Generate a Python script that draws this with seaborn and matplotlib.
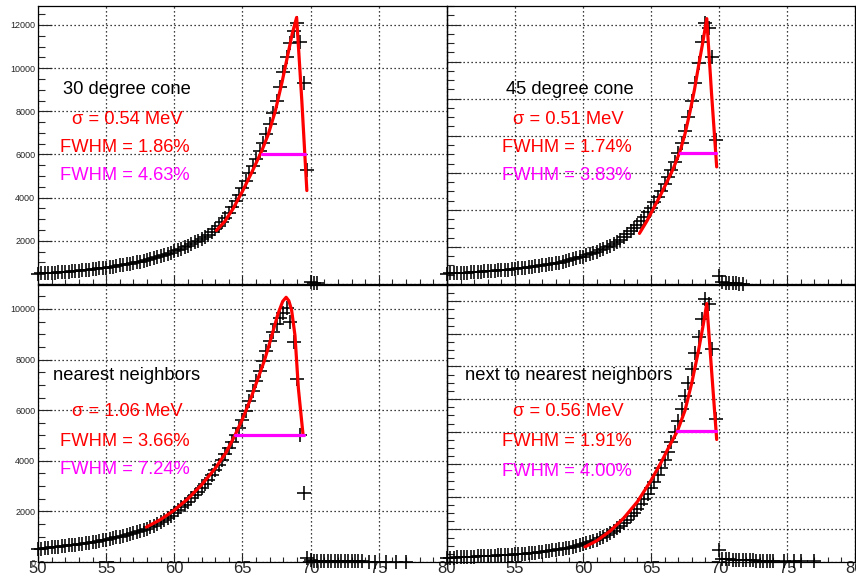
import numpy as np
import pandas as pd
import matplotlib
matplotlib.use("Agg")
import matplotlib.pyplot as plt
import seaborn as sns
from matplotlib.ticker import MultipleLocator, FuncFormatter

# ---------------- data ----------------
# bin centres (MeV) of the histograms, 0.25 MeV bins
energy = np.arange(50.0, 70.0, 0.25)

tl_counts = [480, 490, 500, 510, 520, 530, 540, 550, 560, 570, 585, 600, 615, 630, 645, 660, 680, 700, 720, 740,
             760, 785, 810, 835, 860, 885, 910, 940, 970, 1000, 1035, 1070, 1110, 1150, 1190, 1230, 1280, 1330, 1380, 1440,
             1520, 1580, 1640, 1710, 1780, 1850, 1930, 2010, 2100, 2190, 2290, 2400, 2540, 2700, 2880, 3080, 3300, 3550, 3830, 4130,
             4450, 4780, 5120, 5460, 5810, 6170, 6550, 6960, 7420, 7930, 8500, 9130, 9820, 10520, 11180, 11700, 12070, 11200, 9300, 5300]
tr_counts = [560, 570, 580, 590, 600, 610, 620, 630, 640, 650, 665, 680, 690, 705, 720, 735, 750, 765, 780, 800,
             820, 840, 860, 880, 900, 925, 950, 975, 1000, 1030, 1060, 1090, 1120, 1160, 1200, 1240, 1280, 1330, 1380, 1430,
             1480, 1540, 1600, 1670, 1740, 1820, 1900, 1980, 2070, 2170, 2280, 2400, 2530, 2680, 2840, 3010, 3200, 3400, 3620, 3860,
             4120, 4400, 4700, 5020, 5370, 5750, 6150, 6600, 7080, 7620, 8250, 9000, 9900, 10850, 11950, 13050, 14100, 13800, 12250, 7760]
bl_counts = [520, 530, 545, 560, 575, 590, 605, 620, 640, 655, 670, 690, 710, 730, 750, 770, 790, 810, 835, 860,
             885, 910, 940, 970, 1000, 1030, 1060, 1100, 1140, 1180, 1220, 1270, 1320, 1380, 1440, 1500, 1570, 1640, 1720, 1800,
             1950, 2050, 2160, 2270, 2390, 2510, 2640, 2780, 2930, 3090, 3260, 3440, 3630, 3830, 4040, 4260, 4490, 4740, 5000, 5280,
             5600, 5950, 6350, 6750, 7150, 7550, 7950, 8350, 8750, 9100, 9400, 9650, 9850, 10030, 9500, 8700, 7250, 5030, 2730, 170]
br_counts = [250, 260, 270, 280, 290, 300, 310, 320, 330, 340, 350, 360, 370, 380, 390, 400, 410, 420, 435, 450,
             465, 480, 500, 520, 540, 560, 580, 605, 630, 655, 680, 710, 740, 770, 800, 840, 880, 920, 970, 1020,
             1080, 1140, 1210, 1290, 1370, 1460, 1560, 1670, 1790, 1920, 2070, 2230, 2400, 2590, 2800, 3030, 3280, 3550, 3850, 4170,
             4520, 4900, 5310, 5760, 6250, 6780, 7360, 7990, 8670, 9400, 10180, 11000, 11870, 12800, 13800, 14900, 16170, 15860, 13080, 8760]

# nearly empty bins above 70 MeV
tl_tail_x = [70.0, 70.25, 70.5]
tl_tail_y = [100, 50, 30]
tr_tail_x = [70.0, 70.25, 70.5, 70.75, 71.0, 71.25, 71.5, 71.75]
tr_tail_y = [450, 90, 60, 40, 30, 30, 20, 20]
bl_tail_x = [70.0, 70.25, 70.5, 70.75, 71.0, 71.25, 71.5, 71.75, 72.0, 72.25, 72.5, 72.75, 73.0, 73.25, 73.5, 73.75,
             74.25, 74.75, 75.5, 76.25, 77.0]
bl_tail_y = [60, 50, 45, 40, 40, 35, 35, 30, 30, 30, 25, 25, 25, 20, 20, 20, 15, 15, 10, 10, 10]
br_tail_x = [70.0, 70.25, 70.5, 70.75, 71.0, 71.25, 71.5, 71.75, 72.0, 72.25, 72.5, 72.75, 73.0, 73.25, 73.5, 73.75, 74.0,
             74.75, 75.5, 76.0, 77.0]
br_tail_y = [740, 200, 180, 160, 150, 140, 130, 120, 110, 100, 100, 90, 90, 80, 80, 70, 70, 60, 60, 50, 50]

# fitted curves
tl_fit_x = [63.08, 63.7, 64.3, 65.0, 65.7, 66.4, 66.9, 67.4, 67.9, 68.3, 68.65, 68.97, 69.35, 69.72]
tl_fit_y = [2480, 2900, 3480, 4300, 5200, 6150, 6950, 8000, 9350, 10550, 11600, 12350, 8500, 4330]
tr_fit_x = [64.15, 64.7, 65.2, 65.7, 66.2, 66.65, 67.13, 67.5, 67.87, 68.2, 68.48, 68.8, 69.1, 69.45, 69.83]
tr_fit_y = [2730, 3400, 4100, 4800, 5550, 6250, 7150, 8100, 9300, 10500, 11700, 13000, 14320, 10300, 6320]
bl_fit_x = [57.95, 59.0, 60.0, 61.0, 62.0, 63.0, 63.8, 64.45, 65.0, 65.6, 66.2, 66.6, 67.1, 67.6, 67.95, 68.2, 68.4,
            68.6, 68.85, 69.1, 69.44]
bl_fit_y = [1380, 1680, 2050, 2500, 3050, 3700, 4330, 5010, 5650, 6450, 7350, 7950, 8850, 9800, 10300, 10460, 10320,
            9960, 8950, 6850, 5030]
br_fit_x = [60.15, 61.0, 62.0, 63.0, 64.0, 65.0, 65.8, 66.4, 66.94, 67.5, 68.0, 68.5, 68.85, 69.1, 69.45, 69.83]
br_fit_y = [930, 1300, 1900, 2700, 3700, 5000, 6200, 7200, 8030, 9300, 11000, 13000, 14600, 15860, 11800, 7520]

# half-maximum segments
tl_hm_x = [66.4, 69.6]
tl_hm_y = [6000, 6000]
tr_hm_x = [67.13, 69.78]
tr_hm_y = [7060, 7060]
bl_hm_x = [64.43, 69.49]
bl_hm_y = [5010, 5010]
br_hm_x = [66.94, 69.78]
br_hm_y = [8030, 8030]

titles = ["30 degree cone", "45 degree cone", "nearest neighbors", "next to nearest neighbors"]
sigma_labels = ["σ = 0.54 MeV", "σ = 0.51 MeV", "σ = 1.06 MeV", "σ = 0.56 MeV"]
fwhm_fit_labels = ["FWHM = 1.86%", "FWHM = 1.74%", "FWHM = 3.66%", "FWHM = 1.91%"]
fwhm_hist_labels = ["FWHM = 4.63%", "FWHM = 3.83%", "FWHM = 7.24%", "FWHM = 4.00%"]
y_max = [12880, 15000, 10946, 17000]

# ---------------- style ----------------
sns.set_style("ticks")
plt.rcParams["font.family"] = ["Liberation Sans", "DejaVu Sans"]

W, H = 856, 577
fig = plt.figure(figsize=(W / 100, H / 100), dpi=100)


def add_ax(x0, y0, x1, y1):
    return fig.add_axes([x0 / W, 1 - y1 / H, (x1 - x0) / W, (y1 - y0) / H])


boxes = [(38, 6, 447, 284), (447, 6, 855, 284), (38, 285, 447, 562), (447, 285, 855, 562)]
counts = [tl_counts, tr_counts, bl_counts, br_counts]
tails = [(tl_tail_x, tl_tail_y), (tr_tail_x, tr_tail_y), (bl_tail_x, bl_tail_y), (br_tail_x, br_tail_y)]
fits = [(tl_fit_x, tl_fit_y), (tr_fit_x, tr_fit_y), (bl_fit_x, bl_fit_y), (br_fit_x, br_fit_y)]
hms = [(tl_hm_x, tl_hm_y), (tr_hm_x, tr_hm_y), (bl_hm_x, bl_hm_y), (br_hm_x, br_hm_y)]

# text centres in pixels (x, y of the four lines)
text_x = [(127, 127, 125, 125), (570, 568, 567, 567), (127, 127, 125, 125), (569, 568, 567, 567)]
text_y = [(89, 120, 147, 175), (89, 120, 147, 175), (376, 412, 441, 470), (376, 411, 442, 472)]

for i in range(4):
    ax = add_ax(*boxes[i])
    ax.patch.set_visible(False)
    df = pd.DataFrame({"E": list(energy) + list(tails[i][0]),
                       "N": list(counts[i]) + list(tails[i][1])})
    sns.scatterplot(data=df, x="E", y="N", marker="+", s=100, color="black",
                    linewidth=1.15, ax=ax, clip_on=False, zorder=3)
    fdf = pd.DataFrame({"E": fits[i][0], "N": fits[i][1]})
    sns.lineplot(data=fdf, x="E", y="N", sort=False, estimator=None, color="#ff0000",
                 lw=2.3, ax=ax, zorder=4)
    hdf = pd.DataFrame({"E": hms[i][0], "N": hms[i][1]})
    sns.lineplot(data=hdf, x="E", y="N", sort=False, estimator=None, color="#ff00ff",
                 lw=2.3, ax=ax, zorder=4)

    ax.set_xlim(50, 80)
    ax.set_ylim(0, y_max[i])
    ax.set_xlabel("")
    ax.set_ylabel("")
    ax.xaxis.set_major_locator(MultipleLocator(5))
    ax.xaxis.set_minor_locator(MultipleLocator(1))
    ax.yaxis.set_major_locator(MultipleLocator(2000))
    ax.yaxis.set_minor_locator(MultipleLocator(500))
    ax.grid(True, which="major", ls=(0, (1, 2.2)), color="black", lw=0.9)
    ax.tick_params(axis="x", which="major", direction="in", length=6.5, width=0.8,
                   labelsize=12, pad=-1)
    ax.tick_params(axis="x", which="minor", direction="in", length=3.3, width=0.8)
    ax.tick_params(axis="y", which="major", direction="in", length=10, width=0.8,
                   labelsize=6.5, pad=2)
    ax.tick_params(axis="y", which="minor", direction="in", length=5, width=0.8)
    for sp in ax.spines.values():
        sp.set_visible(True)
        sp.set_color("black")
        sp.set_linewidth(0.9)

    if i < 2:
        ax.tick_params(axis="x", labelbottom=False)
    if i % 2 == 1:
        ax.tick_params(axis="y", labelleft=False)
    if i == 0:
        ax.yaxis.set_major_formatter(FuncFormatter(lambda v, p: "" if v == 0 else f"{int(v)}"))
    else:
        ax.yaxis.set_major_formatter(FuncFormatter(lambda v, p: f"{int(v)}"))
    if i == 3:
        ax.xaxis.set_major_formatter(FuncFormatter(lambda v, p: "" if v == 50 else f"{int(v)}"))
    else:
        ax.xaxis.set_major_formatter(FuncFormatter(lambda v, p: f"{int(v)}"))

    lines = [titles[i], sigma_labels[i], fwhm_fit_labels[i], fwhm_hist_labels[i]]
    colors = ["black", "#ff0000", "#ff0000", "#ff00ff"]
    for s, c, tx, ty in zip(lines, colors, text_x[i], text_y[i]):
        fig.text(tx / W, 1 - ty / H, s, color=c, fontsize=13.2, ha="center", va="center", zorder=5)

fig.savefig("out.png", dpi=100)
